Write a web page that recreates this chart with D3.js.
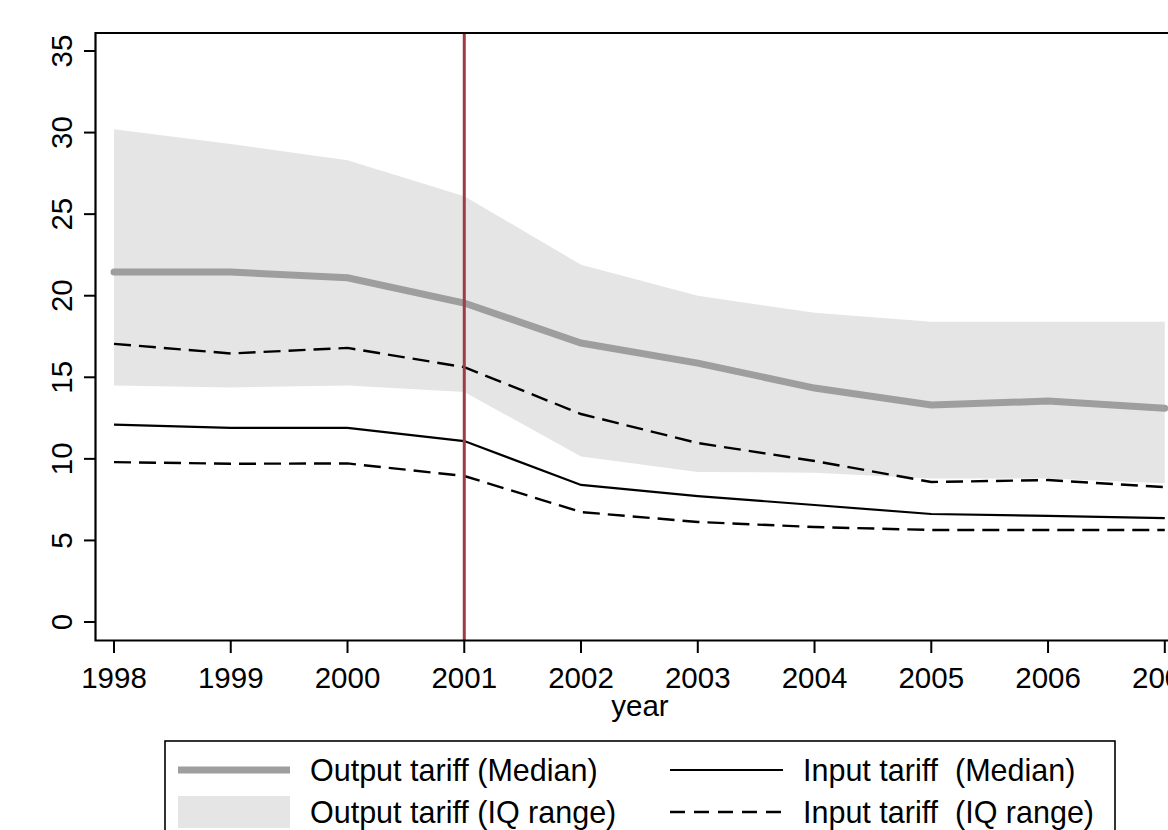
<!DOCTYPE html>
<html><head><meta charset="utf-8">
<script src="https://cdn.jsdelivr.net/npm/d3@7"></script>
<style>body{margin:0;background:#fff;} svg{display:block;font-family:"Liberation Sans",Arial,sans-serif;}</style>
</head><body>
<svg id="chart" width="1168" height="830"></svg>
<script>
const years = [1998,1999,2000,2001,2002,2003,2004,2005,2006,2007];
const outputMedian = [21.45,21.45,21.1,19.55,17.1,15.87,14.34,13.3,13.54,13.1];
const outputIQHigh = [30.2,29.3,28.3,26.1,21.9,20.0,18.95,18.4,18.4,18.4];
const outputIQLow  = [14.5,14.38,14.5,14.1,10.15,9.2,9.15,8.8,8.8,8.5];
const inputMedian  = [12.1,11.9,11.9,11.09,8.4,7.72,7.17,6.62,6.5,6.37];
const inputIQHigh  = [17.05,16.46,16.8,15.62,12.75,10.97,9.87,8.58,8.7,8.27];
const inputIQLow   = [9.8,9.7,9.72,8.95,6.74,6.13,5.82,5.64,5.64,5.64];
const yTicks = [0,5,10,15,20,25,30,35];
const eventYear = 2001;
const legendLabels = ["Output tariff (Median)","Input tariff  (Median)","Output tariff (IQ range)","Input tariff  (IQ range)"];

const svg = d3.select("#chart");
const x = d3.scaleLinear().domain([1998,2007]).range([114,1164.8]);
const y = d3.scaleLinear().domain([0,35]).range([622,51]);
const FS = 29.5;
const LFS = 30.5;

// band
const area = d3.area().x((d,i)=>x(years[i])).y0((d,i)=>y(outputIQLow[i])).y1((d,i)=>y(outputIQHigh[i]));
svg.append("path").datum(years).attr("d",area).attr("fill","#e5e5e5");

const line = arr => d3.line().x((d,i)=>x(years[i])).y((d,i)=>y(arr[i]))(years);
svg.append("path").attr("d",line(outputMedian)).attr("fill","none").attr("stroke","#9e9e9e").attr("stroke-width",7).attr("stroke-linecap","round");
svg.append("path").attr("d",line(inputIQHigh)).attr("fill","none").attr("stroke","#000").attr("stroke-width",2.4).attr("stroke-dasharray","17,8");
svg.append("path").attr("d",line(inputMedian)).attr("fill","none").attr("stroke","#000").attr("stroke-width",2.2);
svg.append("path").attr("d",line(inputIQLow)).attr("fill","none").attr("stroke","#000").attr("stroke-width",2.4).attr("stroke-dasharray","17,8");

// event line
svg.append("line").attr("x1",x(eventYear)).attr("x2",x(eventYear)).attr("y1",33).attr("y2",640).attr("stroke","#a03a45").attr("stroke-width",3);

// frame
svg.append("path").attr("d","M1190,33H95.5V640.5H1190").attr("fill","none").attr("stroke","#000").attr("stroke-width",2.2);

// y axis
const yg = svg.append("g");
yTicks.forEach(t=>{
  yg.append("line").attr("x1",84).attr("x2",95).attr("y1",y(t)).attr("y2",y(t)).attr("stroke","#000").attr("stroke-width",2);
  yg.append("text").attr("transform",`translate(72,${y(t)}) rotate(-90)`).attr("text-anchor","middle").attr("font-size",FS).text(t);
});
// x axis
const xg = svg.append("g");
years.forEach(t=>{
  xg.append("line").attr("x1",x(t)).attr("x2",x(t)).attr("y1",641).attr("y2",653).attr("stroke","#000").attr("stroke-width",2);
  xg.append("text").attr("x",x(t)).attr("y",688).attr("text-anchor","middle").attr("font-size",FS).text(t);
});
svg.append("text").attr("x",640).attr("y",716).attr("text-anchor","middle").attr("font-size",FS).text("year");

// legend
const lg = svg.append("g");
lg.append("rect").attr("x",165).attr("y",741).attr("width",950).attr("height",120).attr("fill","#fff").attr("stroke","#000").attr("stroke-width",1.6);
lg.append("line").attr("x1",178).attr("x2",290).attr("y1",770).attr("y2",770).attr("stroke","#9e9e9e").attr("stroke-width",7);
lg.append("rect").attr("x",178).attr("y",796).attr("width",112).attr("height",32).attr("fill","#e5e5e5");
lg.append("line").attr("x1",670).attr("x2",783).attr("y1",770).attr("y2",770).attr("stroke","#000").attr("stroke-width",2.2);
lg.append("line").attr("x1",670).attr("x2",783).attr("y1",812).attr("y2",812).attr("stroke","#000").attr("stroke-width",2.4).attr("stroke-dasharray","15,9");
const lpos = [[310,781],[803,781],[310,823],[803,823]];
legendLabels.forEach((l,i)=>{
  lg.append("text").attr("x",lpos[i][0]).attr("y",lpos[i][1]).attr("font-size",LFS).attr("xml:space","preserve").style("white-space","pre").text(l);
});
</script>
</body></html>
